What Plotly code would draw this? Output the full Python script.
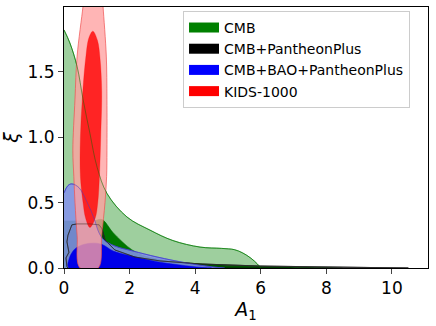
import plotly.graph_objects as go

# ---- contour boundaries (A1, xi) ----
# CMB (green) outer 95% region upper edge (filled down to xi=0)
cmb_outer_x = [0.0, 0.18, 0.40, 0.58, 0.79, 1.01, 1.31, 1.92, 2.62, 3.32, 4.15, 4.80, 5.20, 5.45, 5.70, 5.90, 6.00]
cmb_outer_y = [1.82, 1.72, 1.54, 1.29, 1.03, 0.77, 0.57, 0.39, 0.29, 0.21, 0.16, 0.15, 0.14, 0.115, 0.075, 0.03, 0.0]
# CMB inner 68% region upper edge
cmb_inner_x = [0.0, 0.5, 0.9, 1.16, 1.5, 2.07, 2.5, 3.5, 5.0, 6.5, 8.0, 8.5]
cmb_inner_y = [0.36, 0.36, 0.36, 0.37, 0.27, 0.14, 0.09, 0.045, 0.02, 0.01, 0.003, 0.0]

# CMB+PantheonPlus (black) outer contour outline
pp_outer_x = [0.12, 0.09, 0.06, 0.15, 0.09, 0.12, 0.24, 0.40, 0.79, 1.07, 1.16, 1.25, 1.55, 2.16, 2.93, 4.15, 5.98, 8.1, 10.0, 10.5, 0.12]
pp_outer_y = [0.0, 0.01, 0.077, 0.12, 0.20, 0.25, 0.33, 0.337, 0.337, 0.33, 0.30, 0.214, 0.138, 0.084, 0.054, 0.031, 0.015, 0.008, 0.003, 0.0, 0.0]

# CMB+BAO+PantheonPlus (blue) outer / inner upper edges
bao_outer_x = [0.0, 0.12, 0.24, 0.46, 0.70, 0.91, 1.07, 1.22, 1.55, 2.10, 2.84, 3.75, 4.54, 4.90]
bao_outer_y = [0.574, 0.63, 0.643, 0.613, 0.505, 0.383, 0.268, 0.214, 0.168, 0.130, 0.084, 0.038, 0.008, 0.0]
bao_inner_x = [0.15, 0.17, 0.25, 0.35, 0.60, 0.90, 1.16, 1.50, 2.00, 2.80, 3.70, 4.30, 4.50, 0.15]
bao_inner_y = [0.0, 0.08, 0.12, 0.15, 0.18, 0.19, 0.18, 0.13, 0.095, 0.05, 0.018, 0.003, 0.0, 0.0]

# KIDS-1000 (red) outer / inner contours
kids_outer_x = [0.62, 0.58, 0.40, 0.335, 0.27, 0.30, 0.335, 0.40, 0.49, 1.04, 1.15, 1.25, 1.30, 1.31, 1.31, 1.29, 1.19, 1.16, 0.62]
kids_outer_y = [2.1, 2.0, 1.62, 1.29, 0.90, 0.70, 0.50, 0.25, 0.0, 0.0, 0.25, 0.50, 0.70, 0.90, 1.29, 1.62, 2.0, 2.1, 2.1]
kids_inner_x = [0.88, 1.02, 1.10, 1.15, 1.12, 1.08, 1.03, 0.95, 0.79, 0.66, 0.58, 0.50, 0.50, 0.56, 0.66, 0.76, 0.88]
kids_inner_y = [1.81, 1.74, 1.60, 1.35, 1.00, 0.70, 0.50, 0.38, 0.31, 0.38, 0.50, 0.70, 1.00, 1.30, 1.60, 1.76, 1.81]

legend_names = ["CMB", "CMB+PantheonPlus", "CMB+BAO+PantheonPlus", "KIDS-1000"]
legend_colors = ["#008000", "#000000", "#0000ff", "#ff0000"]

x_ticks = [0, 2, 4, 6, 8, 10]
y_ticks = [0.0, 0.5, 1.0, 1.5]
y_tick_labels = ["0.0", "0.5", "1.0", "1.5"]

fig = go.Figure()

# CMB
fig.add_trace(go.Scatter(x=cmb_outer_x, y=cmb_outer_y, fill="tozeroy", mode="lines",
                         line=dict(color="rgba(0,128,0,0.7)", width=1, shape="spline"),
                         fillcolor="rgba(0,128,0,0.38)", showlegend=False, hoverinfo="skip"))
fig.add_trace(go.Scatter(x=cmb_inner_x, y=cmb_inner_y, fill="tozeroy", mode="lines",
                         line=dict(color="rgba(0,110,0,1)", width=0.5, shape="spline"),
                         fillcolor="rgba(0,118,0,1)", showlegend=False, hoverinfo="skip"))
# CMB+PantheonPlus fill
fig.add_trace(go.Scatter(x=pp_outer_x, y=pp_outer_y, fill="toself", mode="lines",
                         line=dict(color="rgba(0,0,0,0.5)", width=1),
                         fillcolor="rgba(0,0,0,0.3)", showlegend=False, hoverinfo="skip"))
# CMB+BAO+PantheonPlus
fig.add_trace(go.Scatter(x=bao_outer_x, y=bao_outer_y, fill="tozeroy", mode="lines",
                         line=dict(color="rgba(70,70,220,0.8)", width=1, shape="spline"),
                         fillcolor="rgba(132,146,236,0.86)", showlegend=False, hoverinfo="skip"))
fig.add_trace(go.Scatter(x=bao_inner_x, y=bao_inner_y, fill="toself", mode="lines",
                         line=dict(color="rgba(0,0,230,1)", width=0.5, shape="spline"),
                         fillcolor="rgba(0,0,232,1)", showlegend=False, hoverinfo="skip"))
# black outline on top
fig.add_trace(go.Scatter(x=pp_outer_x[:-1], y=pp_outer_y[:-1], mode="lines",
                         line=dict(color="rgba(40,40,40,0.8)", width=1),
                         showlegend=False, hoverinfo="skip"))
# KIDS-1000
fig.add_trace(go.Scatter(x=kids_outer_x, y=kids_outer_y, fill="toself", mode="lines",
                         line=dict(color="rgba(240,80,80,0.7)", width=1, shape="spline"),
                         fillcolor="rgba(255,160,160,0.78)", showlegend=False, hoverinfo="skip"))
fig.add_trace(go.Scatter(x=kids_inner_x, y=kids_inner_y, fill="toself", mode="lines",
                         line=dict(color="rgba(255,0,0,0.5)", width=0.5, shape="spline"),
                         fillcolor="rgba(255,10,10,0.85)", showlegend=False, hoverinfo="skip"))

# faint edges showing through the translucent KIDS contours
fig.add_trace(go.Scatter(x=cmb_outer_x, y=cmb_outer_y, mode="lines",
                         line=dict(color="rgba(0,110,0,0.45)", width=1, shape="spline"),
                         showlegend=False, hoverinfo="skip"))
fig.add_trace(go.Scatter(x=bao_outer_x, y=bao_outer_y, mode="lines",
                         line=dict(color="rgba(70,60,200,0.5)", width=1, shape="spline"),
                         showlegend=False, hoverinfo="skip"))
fig.add_trace(go.Scatter(x=pp_outer_x[:-1], y=pp_outer_y[:-1], mode="lines",
                         line=dict(color="rgba(40,40,40,0.4)", width=1),
                         showlegend=False, hoverinfo="skip"))

# legend entries (thick line swatches)
for name, col in zip(legend_names, legend_colors):
    fig.add_trace(go.Scatter(x=[None], y=[None], mode="lines",
                             line=dict(color=col, width=10), name=name))

fig.update_layout(
    width=436, height=326,
    margin=dict(l=64, r=8, t=7, b=58),
    plot_bgcolor="white", paper_bgcolor="white",
    font=dict(family="DejaVu Sans", color="black"),
    legend=dict(x=0.327, y=0.985, xanchor="left", yanchor="top",
                bgcolor="rgba(255,255,255,0.85)", bordercolor="#cccccc", borderwidth=1,
                font=dict(size=14, family="DejaVu Sans"), tracegroupgap=0),
    xaxis=dict(range=[0, 11.1], tickvals=x_ticks, ticks="outside", ticklen=5,
               tickfont=dict(size=17), showgrid=False, zeroline=False, automargin=False,
               showline=True, linecolor="black", linewidth=1, mirror=True,
               title=dict(text="<i>A</i><sub>1</sub>", font=dict(size=19), standoff=4)),
    yaxis=dict(range=[0, 1.995], tickvals=y_ticks, ticktext=y_tick_labels, ticks="outside", ticklen=5,
               tickfont=dict(size=17), showgrid=False, zeroline=False, automargin=False,
               showline=True, linecolor="black", linewidth=1, mirror=True,
               title=dict(text="<i>ξ</i>", font=dict(size=19), standoff=8)),
)

fig.write_html("out.html", config={"displayModeBar": False},
               post_script="document.body.style.margin='0';document.body.style.overflow='hidden';")
